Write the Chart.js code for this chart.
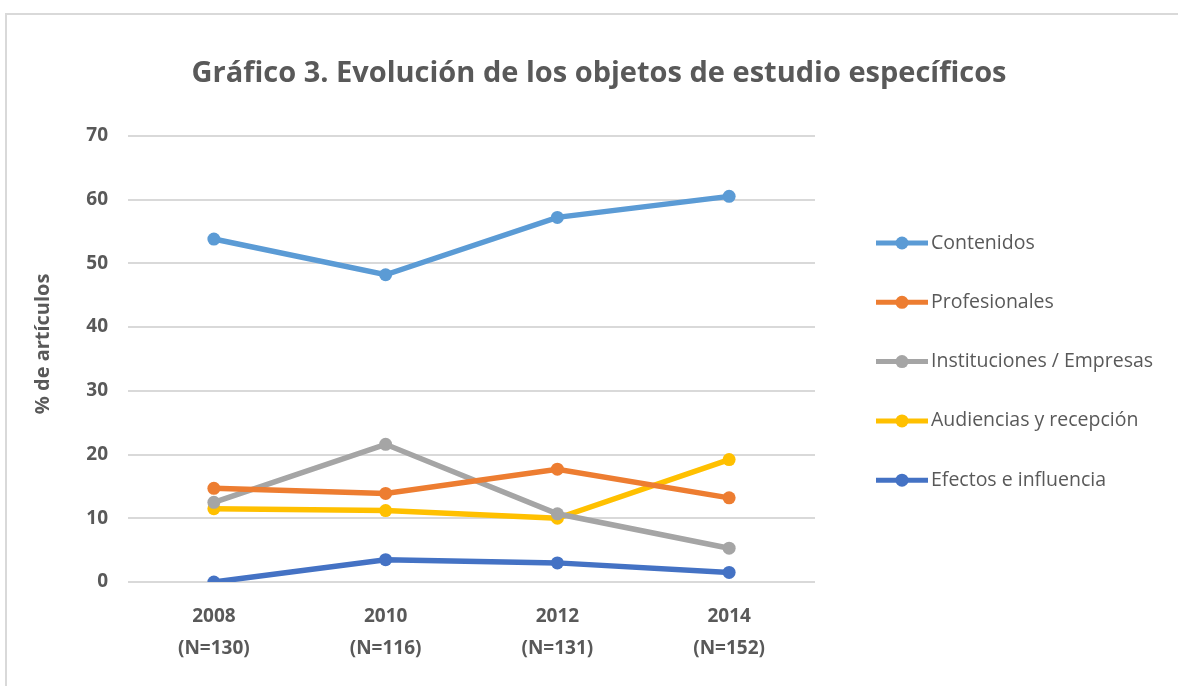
<!DOCTYPE html>
<html>
<head>
<meta charset="utf-8">
<script src="https://cdn.jsdelivr.net/npm/chart.js@4/dist/chart.umd.min.js"></script>
<style>
  html, body { margin: 0; padding: 0; background: #fff; }
  #frame { position: absolute; left: 5px; top: 13px; width: 1200px; height: 700px;
           border-left: 2px solid #d9d9d9; border-top: 2px solid #d9d9d9; }
  #wrap { position: absolute; left: 0; top: 0; width: 1178px; height: 686px; }
</style>
</head>
<body>
<div id="frame"></div>
<div id="wrap"><canvas id="chart"></canvas></div>
<script>
// ===== Gráfico 3: objetos de estudio específicos =====
const years = [['2008', '(N=130)'], ['2010', '(N=116)'], ['2012', '(N=131)'], ['2014', '(N=152)']];
const seriesNames = ['Contenidos', 'Profesionales', 'Instituciones / Empresas', 'Audiencias y recepción', 'Efectos e influencia'];
const contenidos = [53.8, 48.2, 57.2, 60.5];
const profesionales = [14.7, 13.9, 17.7, 13.2];
const instituciones = [12.5, 21.6, 10.7, 5.3];
const audiencias = [11.5, 11.2, 10.0, 19.2];
const efectos = [0.0, 3.5, 3.0, 1.5];
const yTicks = [0, 10, 20, 30, 40, 50, 60, 70];

const colors = ['#5B9BD5', '#ED7D31', '#A5A5A5', '#FFC000', '#4472C4'];
const values = [contenidos, profesionales, instituciones, audiencias, efectos];
const FONT = '"Open Sans", sans-serif';
const TXT = '#595959';

// legend to the right of the plot (line + dot) and the rotated y title
const sideLegend = {
    id: 'sideLegend',
    afterDraw(chart) {
        const ctx = chart.ctx;
        const area = chart.chartArea;
        const x0 = area.right + 61;
        const gap = 59.3;
        const y0 = 243;
        ctx.save();
        chart.data.datasets.forEach((ds, i) => {
            const y = y0 + i * gap;
            ctx.strokeStyle = ds.borderColor;
            ctx.lineWidth = 5;
            ctx.beginPath();
            ctx.moveTo(x0, y);
            ctx.lineTo(x0 + 52, y);
            ctx.stroke();
            ctx.fillStyle = ds.borderColor;
            ctx.beginPath();
            ctx.arc(x0 + 26, y, 6.5, 0, Math.PI * 2);
            ctx.fill();
            ctx.fillStyle = TXT;
            ctx.font = '19.5px ' + FONT;
            ctx.textBaseline = 'middle';
            ctx.textAlign = 'left';
            ctx.fillText(ds.label, x0 + 55, y);
        });
        // y axis title, sits a bit above the plot middle as in Excel
        ctx.translate(43, (area.top + area.bottom) / 2 - 15);
        ctx.rotate(-Math.PI / 2);
        ctx.font = 'bold 20px ' + FONT;
        ctx.textAlign = 'center';
        ctx.fillText('% de artículos', 0, 0);
        ctx.restore();
    }
};

new Chart(document.getElementById('chart').getContext('2d'), {
    type: 'line',
    data: {
        labels: years,
        datasets: seriesNames.map((name, i) => ({
            label: name,
            data: values[i],
            borderColor: colors[i],
            backgroundColor: colors[i],
            borderWidth: 5.5,
            pointRadius: 6.5,
            pointHoverRadius: 6.5,
            pointBorderWidth: 0,
            tension: 0
        }))
    },
    options: {
        responsive: true, maintainAspectRatio: false, animation: false,
        layout: { padding: { left: 20, right: 0, top: 0, bottom: 0 } },
        plugins: {
            legend: { display: false },
            tooltip: { enabled: false },
            title: {
                display: true,
                text: 'Gráfico 3. Evolución de los objetos de estudio específicos',
                color: TXT,
                font: { family: FONT, size: 29, weight: 'bold', lineHeight: 1.2 },
                padding: { top: 56, bottom: 45 }
            }
        },
        scales: {
            x: {
                offset: true,
                grid: { display: false },
                border: { display: false },
                ticks: { color: TXT, padding: 10, maxRotation: 0,
                         font: { family: FONT, size: 19, weight: 'bold', lineHeight: 1.7 } },
                afterFit: s => { s.height = 104; }
            },
            y: {
                min: 0, max: 70,
                afterBuildTicks: s => { s.ticks = yTicks.map(v => ({ value: v })); },
                grid: { color: '#d9d9d9', lineWidth: 2, drawTicks: false },
                border: { display: false },
                ticks: { color: TXT, padding: 20,
                         font: { family: FONT, size: 19, weight: 'bold' } },
                afterFit: s => { s.width = 108; }
            },
            // empty right axis only reserves room for the legend
            side: {
                position: 'right',
                min: 0, max: 1,
                grid: { display: false },
                border: { display: false },
                ticks: { display: false },
                afterFit: s => { s.width = 363; }
            }
        }
    },
    plugins: [sideLegend]
});
</script>
</body>
</html>
